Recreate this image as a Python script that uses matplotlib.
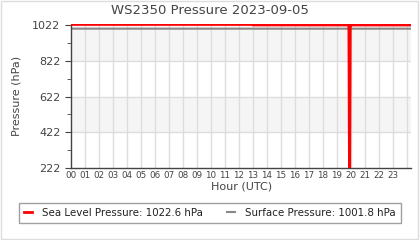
import numpy as np
import matplotlib.pyplot as plt
from matplotlib.patches import Rectangle

# readings (hour of day, hPa)
slp_hours = [0, 2, 4, 6, 8, 10, 12, 12.95, 13.0, 15, 17, 19, 19.85, 19.9, 19.95, 20.0, 21, 22, 23, 24.3]
slp_vals = [1025.6, 1025.6, 1025.5, 1025.6, 1025.6, 1025.5, 1025.4, 1025.4, 1022.8, 1022.8, 1022.7,
            1022.7, 1022.7, 0.0, 1022.6, 1022.6, 1022.7, 1022.6, 1022.6, 1022.6]
sp_hours = [0, 4, 8, 12, 16, 20, 24.3]
sp_vals = [1001.9, 1001.9, 1001.8, 1001.8, 1001.7, 1001.8, 1001.8]

title = "WS2350 Pressure 2023-09-05"
hour_labels = ["%02d" % h for h in range(24)]
y_ticks = [222, 422, 622, 822, 1022]
slp_now = 1022.6
sp_now = 1001.8

txt = "#444444"
fig = plt.figure(figsize=(4.2, 2.4), dpi=100)
fig.patches.append(Rectangle((0.003, 0.004), 0.993, 0.99, transform=fig.transFigure,
                             fill=False, edgecolor="#dddddd", linewidth=1))
ax = fig.add_axes([0.169, 0.30, 0.81, 0.60])

# alternating bands
for i in range(len(y_ticks) - 1):
    if i % 2 == 1:
        ax.axhspan(y_ticks[i], y_ticks[i + 1], color="#f5f5f5", zorder=0, linewidth=0)
for y in y_ticks[1:-1]:
    ax.axhline(y, color="#dddddd", linewidth=1, zorder=1)
for h in range(1, 25):
    ax.axvline(h, ymax=(1022 - 222) / (1028 - 222), color="#dddddd", linewidth=1, zorder=1)

ax.plot(slp_hours, slp_vals, color="#ff0000", linewidth=2, zorder=3,
        label="Sea Level Pressure: %.1f hPa" % slp_now)
ax.plot(sp_hours, sp_vals, color="#888888", linewidth=1.5, zorder=2,
        label="Surface Pressure: %.1f hPa" % sp_now)

ax.set_xlim(0, 24.3)
ax.set_ylim(222, 1028)
ax.set_yticks(y_ticks)
ax.set_yticks([322, 522, 722, 922], minor=True)
ax.set_xticks(range(24))
ax.set_xticklabels(hour_labels)
ax.tick_params(axis="x", labelsize=6.3, length=0, pad=2, colors=txt)
ax.tick_params(axis="y", labelsize=8, colors=txt, length=4)
ax.tick_params(axis="y", which="minor", length=3, colors=txt)
for s in ["top", "right"]:
    ax.spines[s].set_visible(False)
for s in ["left", "bottom"]:
    ax.spines[s].set_color("#444444")
    ax.spines[s].set_linewidth(1)
ax.spines["left"].set_bounds(222, 1022)

fig.text(0.5, 0.955, title, fontsize=9.5, color=txt, ha="center", va="center")
ax.set_xlabel("Hour (UTC)", fontsize=8, color=txt, labelpad=1)
ax.set_ylabel("Pressure (hPa)", fontsize=8, color=txt, labelpad=8)

leg = fig.legend(loc="center", bbox_to_anchor=(0.5, 0.113), ncol=2, fontsize=7.4,
                 frameon=True, fancybox=False, handlelength=0.8, columnspacing=2.3,
                 borderpad=0.45, handletextpad=1.0)
leg.get_frame().set_edgecolor("#888888")
leg.get_frame().set_linewidth(1)
for t in leg.get_texts():
    t.set_color("#222222")

fig.savefig("out.png", dpi=100)
